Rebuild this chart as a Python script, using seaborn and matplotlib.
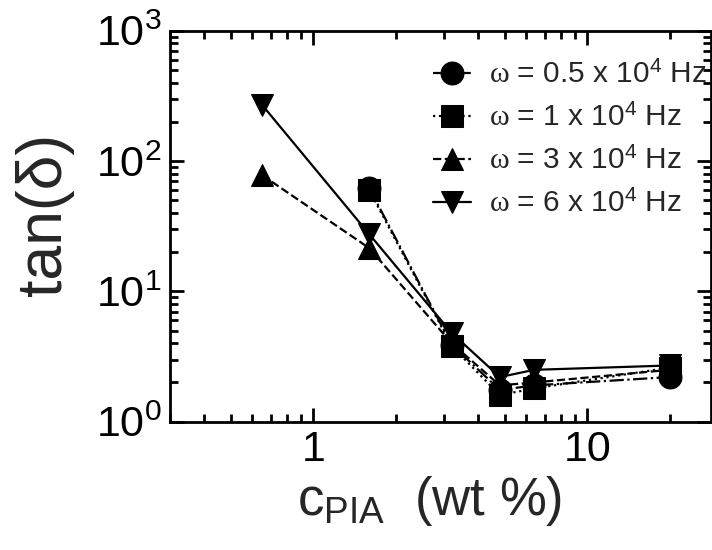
import matplotlib
matplotlib.use("Agg")
import matplotlib.pyplot as plt
import seaborn as sns
import pandas as pd

# PIA concentration (wt %) and loss tangent for each frequency
conc_short = [1.6, 3.2, 4.8, 6.4, 20]
conc_long = [0.65, 1.6, 3.2, 4.8, 6.4, 20]

tan_05 = [62, 3.9, 1.75, 1.9, 2.2]
tan_1 = [60, 3.8, 1.6, 1.8, 2.6]
tan_3 = [78, 21.5, 4.0, 1.9, 2.0, 2.5]
tan_6 = [270, 27.5, 4.8, 2.2, 2.5, 2.7]

labels = [
    r"$\mathit{\omega}$ = 0.5 x 10$^{4}$ Hz",
    r"$\mathit{\omega}$ = 1 x 10$^{4}$ Hz",
    r"$\mathit{\omega}$ = 3 x 10$^{4}$ Hz",
    r"$\mathit{\omega}$ = 6 x 10$^{4}$ Hz",
]

sns.set_theme(style="ticks")
plt.rcParams["font.family"] = ["Liberation Sans", "DejaVu Sans"]
plt.rcParams["mathtext.fontset"] = "custom"
plt.rcParams["mathtext.rm"] = "Liberation Sans"
plt.rcParams["mathtext.it"] = "Liberation Serif"
plt.rcParams["mathtext.bf"] = "Liberation Sans:bold"

fig = plt.figure(figsize=(7.12, 5.5), dpi=100)
ax = fig.add_axes([170 / 712, (550 - 421.7) / 550, 541 / 712, 391 / 550])

series = [
    (conc_short, tan_05, "o", "-.", labels[0]),
    (conc_short, tan_1, "s", ":", labels[1]),
    (conc_long, tan_3, "^", "--", labels[2]),
    (conc_long, tan_6, "v", "-", labels[3]),
]

for xs, ys, mk, ls, lab in series:
    df = pd.DataFrame({"c": xs, "tan": ys})
    sns.lineplot(data=df, x="c", y="tan", ax=ax, color="black",
                 marker=mk, markersize=16.5, markeredgecolor="black",
                 linestyle=ls, linewidth=1.6, label=lab, sort=False)

ax.set_xscale("log")
ax.set_yscale("log")
ax.set_xlim(0.3, 28.3)
ax.set_ylim(1, 1000)
ax.set_xticks([1, 10])
ax.set_xticklabels(["1", "10"])

for sp in ax.spines.values():
    sp.set_linewidth(2.0)
    sp.set_color("black")

ax.tick_params(which="both", direction="in", top=True, right=True,
               colors="black", width=2.0)
ax.tick_params(which="major", length=10, labelsize=31, pad=6)
ax.tick_params(which="minor", length=5.5)

ax.set_xlabel(r"$\mathrm{c_{PIA}}$  (wt %)", fontsize=38)
ax.set_ylabel("tan(δ)", fontsize=45)
ax.xaxis.set_label_coords(0.48, -0.135)
ax.yaxis.set_label_coords(-0.178, 0.53)

leg = ax.legend(loc="upper right", bbox_to_anchor=(0.993, 0.922),
                frameon=False, fontsize=21.5, borderpad=0,
                handlelength=1.3, handletextpad=0.6, labelspacing=0.5,
                borderaxespad=0, markerscale=1.0)

fig.savefig("out.png", dpi=100, facecolor="white")
